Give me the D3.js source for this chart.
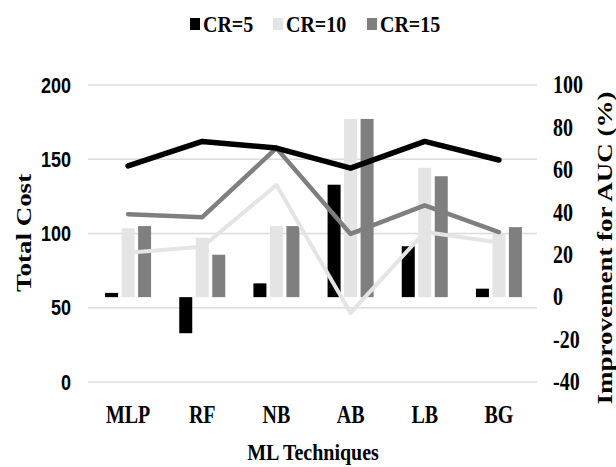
<!DOCTYPE html>
<html><head><meta charset="utf-8">
<script src="https://cdn.jsdelivr.net/npm/d3@7/dist/d3.min.js"></script>
<style>body{margin:0;background:#fff}svg{display:block}</style>
</head><body>
<script>
const categories = ["MLP","RF","NB","AB","LB","BG"];
const seriesNames = ["CR=5","CR=10","CR=15"];
// Bars: Improvement for AUC (%) (right axis)
const barCR5  = [2, -17, 6.5, 53, 24, 4];
const barCR10 = [32.5, 28, 33.5, 84, 61, 30];
const barCR15 = [33.5, 20, 33.5, 84, 57, 33];
// Lines: Total Cost (left axis)
const lineCR5  = [145.5, 162, 157.5, 144, 162, 149.5];
const lineCR10 = [87, 91, 132.6, 46.5, 101, 94];
const lineCR15 = [113, 111, 157.5, 99.7, 119, 101];
const leftTicks = [0, 50, 100, 150, 200];
const rightTicks = [-40, -20, 0, 20, 40, 60, 80, 100];

const colors = ["#000000", "#e4e4e4", "#7f7f7f"];
const W = 616, H = 467, SY = 1.3;
const svg = d3.select("body").append("svg").attr("width", W).attr("height", H);

const x = d3.scaleBand().domain(categories).range([91, 536]);
const yL = d3.scaleLinear().domain([0, 200]).range([382, 85]);
const yR = d3.scaleLinear().domain([-40, 100]).range([382, 85]);

// gridlines
svg.append("g").selectAll("line").data(leftTicks).join("line")
  .attr("x1", 88).attr("x2", 537)
  .attr("y1", d => yL(d)).attr("y2", d => yL(d))
  .attr("stroke", "#dcdcdc").attr("stroke-width", 1.5);

function txt(xp, yp, s, opts) {
  const g = svg.append("g").attr("transform", `translate(${xp},${yp}) scale(1,${opts.sy||SY})${opts.rot?` rotate(${opts.rot})`:""}`);
  g.append("text").text(s)
    .attr("font-family", opts.family || "'Liberation Serif','Times New Roman',serif")
    .attr("font-size", opts.size || 20)
    .attr("font-weight", opts.weight || "bold")
    .attr("text-anchor", opts.anchor || "middle")
    .attr("dominant-baseline", opts.baseline || "auto")
    .attr("fill", "#000");
}

// left ticks
leftTicks.forEach(t => txt(71, yL(t), String(t), {family:"'Liberation Sans',Arial,sans-serif", size:18, anchor:"end", baseline:"central", sy:1.25}));
// right ticks
rightTicks.forEach(t => txt(553, yR(t), String(t), {size:20, anchor:"start", baseline:"central", sy:1.25}));

// bars
const barSeries = [barCR5, barCR10, barCR15];
const offsets = [-16.5, 0, 16.5];
const bw = 13;
barSeries.forEach((vals, si) => {
  svg.append("g").selectAll("rect").data(vals).join("rect")
    .attr("x", (d, i) => x(categories[i]) + x.bandwidth()/2 + offsets[si] - bw/2)
    .attr("width", bw)
    .attr("y", d => Math.min(yR(d), yR(0)))
    .attr("height", d => Math.abs(yR(d) - yR(0)))
    .attr("fill", colors[si]);
});

// lines
const lineSeries = [lineCR10, lineCR15, lineCR5];
const lineColors = [colors[1], colors[2], colors[0]];
const lineWidths = [4, 4.5, 5.5];
const lineGen = d3.line().x((d, i) => x(categories[i]) + x.bandwidth()/2).y(d => yL(d));
lineSeries.forEach((vals, k) => {
  svg.append("path").datum(vals).attr("d", lineGen)
    .attr("fill", "none").attr("stroke", lineColors[k])
    .attr("stroke-width", lineWidths[k])
    .attr("stroke-linejoin", "round").attr("stroke-linecap", "round");
});

// category labels
categories.forEach(c => txt(x(c) + x.bandwidth()/2, 423, c, {size:20, sy:1.3}));

// axis titles
txt(313, 460, "ML Techniques", {size:20, sy:1.2});
txt(31, 233, "Total Cost", {size:20, rot:-90, sy:1.35});
txt(612, 248, "Improvement for AUC (%)", {size:20, rot:-90, sy:1.35});

// legend
const legX = [190, 273, 367];
seriesNames.forEach((n, i) => {
  svg.append("rect").attr("x", legX[i]).attr("y", 18).attr("width", 10).attr("height", 12).attr("fill", colors[i]);
  txt(legX[i] + 13, 32, n, {size:20, anchor:"start", sy:1.2});
});
</script>
</body></html>
